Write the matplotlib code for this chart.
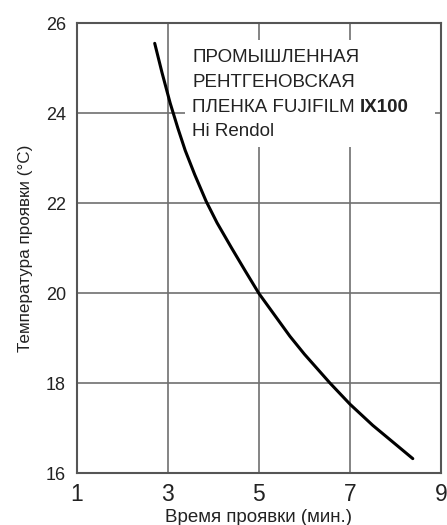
import matplotlib
matplotlib.use("Agg")
import matplotlib.pyplot as plt

plt.rcParams['font.family'] = ['Liberation Sans', 'DejaVu Sans']

# кривая
time_min = [2.71, 2.87, 3.05, 3.22, 3.38, 3.59, 3.84, 4.08, 4.40, 4.70, 5.00,
            5.68, 6.00, 6.56, 7.00, 7.50, 8.00, 8.38]
temp_c = [25.55, 24.90, 24.22, 23.66, 23.17, 22.63, 22.04, 21.56, 21.00, 20.49, 19.99,
          19.04, 18.64, 18.00, 17.53, 17.06, 16.64, 16.32]

x_ticks = [1, 3, 5, 7, 9]
y_ticks = [16, 18, 20, 22, 24, 26]
label_lines = ["ПРОМЫШЛЕННАЯ", "РЕНТГЕНОВСКАЯ", "ПЛЕНКА FUJIFILM ", "Hi Rendol"]
label_bold = "IX100"

fig = plt.figure(figsize=(4.47, 5.25), dpi=100)
ax = fig.add_axes([0.172, 0.099, 0.8146, 0.857])

ax.plot(time_min, temp_c, color='black', lw=2.2, zorder=4,
        solid_joinstyle='round', solid_capstyle='round')

ax.set_xlim(1, 9)
ax.set_ylim(16, 26)
ax.set_xticks(x_ticks)
ax.set_yticks(y_ticks)
ax.tick_params(axis='x', length=0, pad=7, labelsize=16.5, colors='#222222')
ax.tick_params(axis='y', length=0, pad=8, labelsize=13, colors='#222222')
ax.grid(True, color='#707070', lw=1.2, zorder=1)
for s in ax.spines.values():
    s.set_color('#555555')
    s.set_linewidth(1.5)

ax.set_xlabel("Время проявки (мин.)", fontsize=13.5, color='#222222', labelpad=2.5)
ax.set_ylabel("Температура проявки (°C)", fontsize=12.3, color='#222222', labelpad=9)

# белая подложка под подписью
ax.add_patch(plt.Rectangle((3.37, 23.25), 5.5, 2.37, transform=ax.transData,
                           facecolor='white', edgecolor='none', zorder=2))

x0 = 3.53
y_lines = [25.14, 24.59, 24.03, 23.48]
texts = []
for txt, yy in zip(label_lines, y_lines):
    texts.append(ax.text(x0, yy, txt, fontsize=13.5, color='#222222',
                         va='baseline', ha='left', zorder=3))

fig.canvas.draw()
bb = texts[2].get_window_extent(renderer=fig.canvas.get_renderer())
x_end = ax.transData.inverted().transform((bb.x1, bb.y0))[0]
ax.text(x_end, y_lines[2], label_bold, fontsize=13.5, fontweight='bold',
        color='#222222', va='baseline', ha='left', zorder=3)

fig.savefig("out.png", dpi=100)
